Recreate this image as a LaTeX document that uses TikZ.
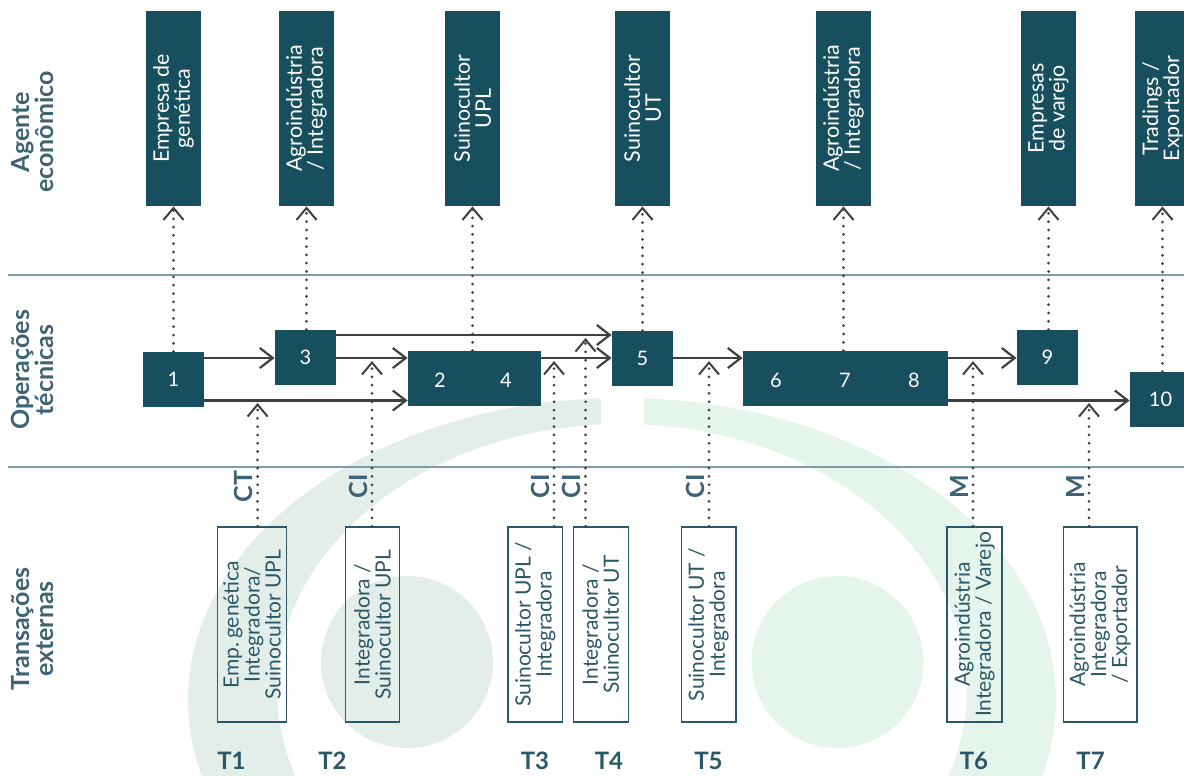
\documentclass[tikz,border=0pt]{standalone}
\usepackage{fontspec}
\setmainfont{Lato}
\usetikzlibrary{arrows.meta,calc}
\definecolor{boxcol}{HTML}{174F5F}
\definecolor{rowcol}{HTML}{3D6374}
\definecolor{trcol}{HTML}{2A5868}
\definecolor{sepcol}{HTML}{7C9CAA}
\definecolor{arrcol}{HTML}{404040}
\definecolor{bgleft}{HTML}{E3EEE8}
\definecolor{bgright}{HTML}{E6F5EC}
\tikzset{
  agbox/.style={fill=boxcol,text=white,rotate=90,align=center,inner sep=0pt,
    minimum width=97.5pt,minimum height=27.5pt,font=\fontsize{10.7}{10.5}\selectfont},
  opbox/.style={fill=boxcol,text=white,inner sep=0pt,minimum width=30.5pt,minimum height=27.5pt,
    font=\fontsize{10}{11}\selectfont},
  opnum/.style={text=white,inner sep=0pt,font=\fontsize{10}{11}\selectfont},
  trbox/.style={draw=trcol,line width=0.75pt,text=trcol,rotate=90,align=center,inner sep=0pt,
    minimum width=97.5pt,minimum height=27.25pt,font=\fontsize{10.5}{10.5}\selectfont},
  rowlab/.style={text=rowcol,rotate=90,align=center,font=\bfseries\fontsize{12.5}{12}\selectfont},
  govlab/.style={text=rowcol,rotate=90,inner sep=0pt,font=\bfseries\fontsize{12.5}{12}\selectfont},
  tlab/.style={text=trcol,inner sep=0pt,font=\bfseries\fontsize{12}{12}\selectfont},
  sepline/.style={sepcol,line width=1pt},
  flow/.style={arrcol,line width=1.1pt,-{Straight Barb[length=6.5pt,width=10pt]}},
  dotline/.style={arrcol,line width=1.5pt,line cap=round,dash pattern=on 0pt off 4.15pt,
    -{Straight Barb[length=6pt,width=10pt,line width=1pt]}}
}
\begin{document}
\begin{tikzpicture}[x=0.5pt,y=-0.5pt]
    \fill[white] (0,0) rectangle (1184,776);
    \useasboundingbox (0,0) rectangle (1184,776);
    \begin{scope}
        \clip (0,0) rectangle (601,776);
        \fill[bgleft,even odd rule] (622,700) ellipse [x radius=434,y radius=302]
            (622,690) ellipse [x radius=345,y radius=266];
        \fill[bgleft] (407,662) circle [radius=86];
    \end{scope}
    \begin{scope}
        \clip (644,0) rectangle (1184,776);
        \fill[bgright,even odd rule] (622,700) ellipse [x radius=434,y radius=302]
            (622,690) ellipse [x radius=345,y radius=266];
        \fill[bgright] (837.5,662) circle [radius=86];
    \end{scope}
    \draw[sepline] (8,275) -- (1184,275);
    \draw[sepline] (8,467) -- (1184,467);
    \node[rowlab] (row1) at (32.5,132) {Agente\\econômico};
    \node[rowlab] (row2) at (32.5,370) {Operações\\técnicas};
    \node[rowlab] (row3) at (32.5,629) {Transações\\externas};
    \foreach \nm/\x/\txt in {ag1/173.5/{Empresa de\\genética},ag2/306.5/{Agroindústria\\/ Integradora},
        ag3/472.5/{Suinocultor\\UPL},ag4/642.5/{Suinocultor\\UT},ag5/843.5/{Agroindústria\\/ Integradora},
        ag6/1048.5/{Empresas\\de varejo},ag7/1162.5/{Tradings /\\Exportador}}
        \node[agbox] (\nm) at (\x,108.5) {\txt};
    \node[opbox] (op1) at (173.5,379.5) {1};
    \node[opbox] (op3) at (305.5,357.5) {3};
    \node[opbox,minimum width=66.5pt] (op24) at (474.5,378.5) {};
    \node[opnum] (n2) at (440,380) {2};
    \node[opnum] (n4) at (506,380) {4};
    \node[opbox] (op5) at (642.5,358.5) {5};
    \node[opbox,minimum width=102.5pt] (op678) at (845.5,378.5) {};
    \node[opnum] (n6) at (776,380) {6};
    \node[opnum] (n7) at (845,380) {7};
    \node[opnum] (n8) at (914,380) {8};
    \node[opbox] (op9) at (1047.5,357.5) {9};
    \node[opbox] (op10) at (1160.5,399.5) {10};
    \foreach \nm/\x/\w/\txt in {tr1/252/34.5pt/{Emp.\,genética\\Integradora/\\Suinocultor UPL},
        tr2/372.5/27pt/{Integradora /\\Suinocultor UPL},tr3/535.3/27.3pt/{Suinocultor UPL /\\Integradora},
        tr4/600.8/27.5pt/{Integradora /\\Suinocultor UT},tr5/708.5/27.25pt/{Suinocultor UT /\\Integradora},
        tr6/974.5/27.5pt/{Agroindústria\\Integradora / Varejo},tr7/1100.3/36.75pt/{Agroindústria\\Integradora\\/ Exportador}}
        \node[trbox,minimum height=\w] (\nm) at (\x,624.5) {\txt};
    \foreach \i/\x in {1/231.5,2/332.5,3/535,4/609,5/708.5,6/974,7/1090.5}
        \node[tlab] (t\i) at (\x,761) {T\i};
    \foreach \o/\a in {op1/ag1,op3/ag2,op24/ag3,op5/ag4,op678/ag5,op9/ag6,op10/ag7}
        \draw[dotline] (\o.north -| \a.west) -- (\a.west);
    \coordinate (yhi) at (0,335);
    \coordinate (ymid) at (0,358);
    \coordinate (ylow) at (0,400.5);
    \foreach \a/\b/\r in {op1/op3/ymid,op1/op24/ylow,op3/op24/ymid,op3/op5/yhi,op24/op5/ymid,
        op5/op678/ymid,op678/op9/ymid,op678/op10/ylow}
        \draw[flow] (\a.east |- \r) -- (\b.west |- \r);
    \foreach \i/\x/\y/\g in {1/257.6/403/CT,2/372/361/CI,3/554/361/CI,4/585.5/338/CI,
        5/709/361/CI,6/973/361/M,7/1089/403/M}{
        \coordinate (c\i) at (\x,\y);
        \draw[dotline] (c\i |- tr\i.east) -- (c\i);
        \node[govlab] (g\i) at ($(c\i |- tr\i.east)+(-14,-40)$) {\g};
    }
\end{tikzpicture}
\end{document}
